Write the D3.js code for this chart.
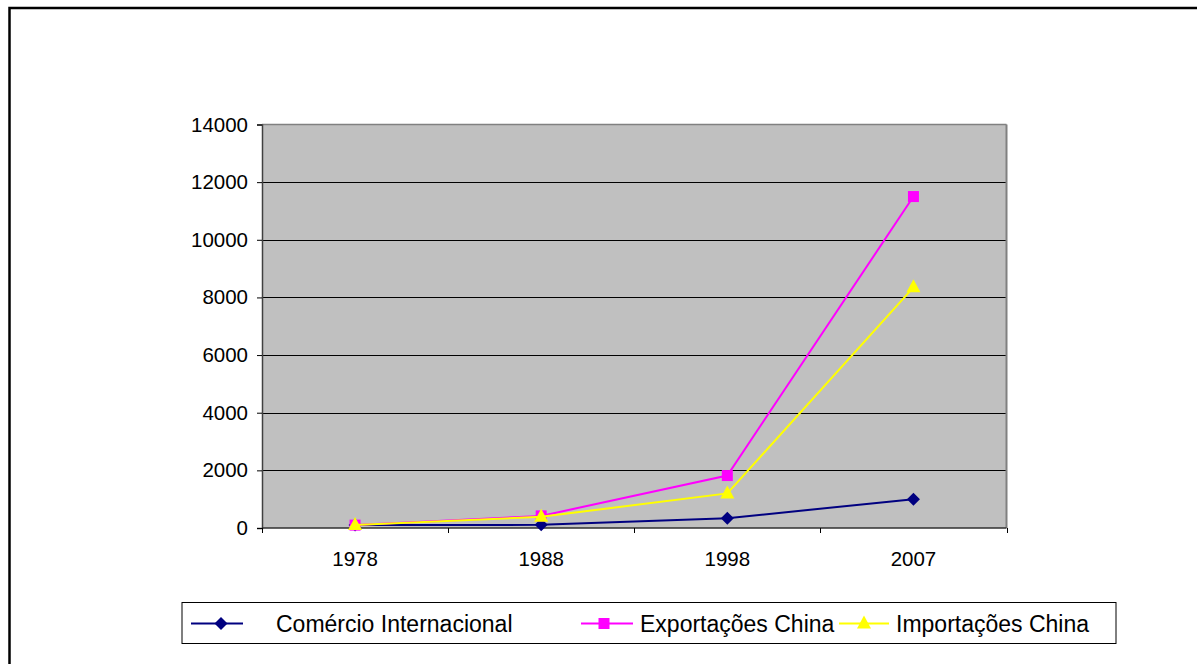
<!DOCTYPE html>
<html>
<head>
<meta charset="utf-8">
<script src="https://cdn.jsdelivr.net/npm/d3@7"></script>
<style>
  html, body { margin: 0; padding: 0; background: #fff; }
  svg { display: block; font-family: "Liberation Sans", Arial, sans-serif; }
</style>
</head>
<body>
<svg id="chart" width="1197" height="664"></svg>
<script>
// Anos e séries (índice, 1978 = 100)
const years = ["1978", "1988", "1998", "2007"];
const comercioInternacional = [100, 110, 340, 1000];
const exportacoesChina = [100, 420, 1820, 11500];
const importacoesChina = [100, 390, 1200, 8350];
const yTicks = [0, 2000, 4000, 6000, 8000, 10000, 12000, 14000];

const series = [
  { name: "Comércio Internacional", values: comercioInternacional, color: "#000080", marker: "diamond" },
  { name: "Exportações China", values: exportacoesChina, color: "#FF00FF", marker: "square" },
  { name: "Importações China", values: importacoesChina, color: "#FFFF00", marker: "triangle" }
];

const svg = d3.select("#chart");
const plot = { left: 262, top: 124.5, right: 1006.5, bottom: 528 };

// Moldura externa
svg.append("rect")
  .attr("x", 9.5).attr("y", 8)
  .attr("width", 1300).attr("height", 800)
  .attr("fill", "none").attr("stroke", "#000").attr("stroke-width", 2.5);

const x = d3.scaleBand().domain(years).range([plot.left, plot.right]);
const y = d3.scaleLinear().domain([0, 14000]).range([plot.bottom, plot.top]);

// Área de plotagem
svg.append("rect")
  .attr("x", plot.left).attr("y", plot.top)
  .attr("width", plot.right - plot.left).attr("height", plot.bottom - plot.top)
  .attr("fill", "#C0C0C0");

// Linhas de grade
svg.append("g").selectAll("line")
  .data(yTicks.filter(d => d > 0 && d < 14000))
  .join("line")
  .attr("x1", plot.left).attr("x2", plot.right)
  .attr("y1", d => Math.round(y(d)) + 0.5).attr("y2", d => Math.round(y(d)) + 0.5)
  .attr("stroke", "#000").attr("stroke-width", 1);

// Borda superior e direita
svg.append("line")
  .attr("x1", plot.left).attr("x2", plot.right)
  .attr("y1", plot.top).attr("y2", plot.top)
  .attr("stroke", "#808080").attr("stroke-width", 1.5);
svg.append("line")
  .attr("x1", plot.right).attr("x2", plot.right)
  .attr("y1", plot.top).attr("y2", plot.bottom)
  .attr("stroke", "#808080").attr("stroke-width", 2);

// Eixo Y
const yAxis = d3.axisLeft(y).tickValues(yTicks).tickSize(5).tickPadding(9).tickFormat(d3.format("d"));
const gy = svg.append("g").attr("transform", `translate(${plot.left},0)`).call(yAxis);
gy.select(".domain").attr("stroke", "#404040").attr("stroke-width", 1.5);
gy.selectAll(".tick line").attr("stroke", "#000");
gy.selectAll(".tick text").attr("font-size", "20.5px").attr("fill", "#000")
  .attr("font-family", "Liberation Sans, Arial, sans-serif");

// Eixo X com marcas entre as categorias
svg.append("line")
  .attr("x1", plot.left).attr("x2", plot.right)
  .attr("y1", plot.bottom).attr("y2", plot.bottom)
  .attr("stroke", "#303030").attr("stroke-width", 1.5);
const boundaries = years.map(d => x(d)).concat([x(years[years.length - 1]) + x.bandwidth()]);
svg.append("g").selectAll("line")
  .data(boundaries)
  .join("line")
  .attr("x1", d => Math.round(d) + 0.5).attr("x2", d => Math.round(d) + 0.5)
  .attr("y1", plot.bottom).attr("y2", plot.bottom + 5)
  .attr("stroke", "#000");
svg.append("g").selectAll("text")
  .data(years)
  .join("text")
  .attr("x", d => x(d) + x.bandwidth() / 2)
  .attr("y", 558)
  .attr("text-anchor", "middle")
  .attr("dominant-baseline", "central")
  .attr("font-size", "20.5px")
  .text(d => d);

// Marcadores
function drawMarker(g, type, color, cx, cy) {
  if (type === "diamond") {
    g.append("path").attr("d", `M${cx},${cy - 6.5}L${cx + 6.5},${cy}L${cx},${cy + 6.5}L${cx - 6.5},${cy}Z`)
      .attr("fill", color);
  } else if (type === "square") {
    g.append("rect").attr("x", cx - 5.5).attr("y", cy - 5.5).attr("width", 11).attr("height", 11)
      .attr("fill", color);
  } else {
    g.append("path").attr("d", `M${cx},${cy - 8}L${cx + 7},${cy + 5}L${cx - 7},${cy + 5}Z`)
      .attr("fill", color);
  }
}

const line = d3.line()
  .x((d, i) => x(years[i]) + x.bandwidth() / 2)
  .y(d => y(d));

series.forEach(s => {
  const g = svg.append("g");
  g.append("path").datum(s.values)
    .attr("d", line)
    .attr("fill", "none").attr("stroke", s.color).attr("stroke-width", 2);
  s.values.forEach((v, i) => drawMarker(g, s.marker, s.color, x(years[i]) + x.bandwidth() / 2, y(v)));
});

// Legenda
const legend = svg.append("g");
legend.append("rect")
  .attr("x", 182).attr("y", 602.5).attr("width", 934).attr("height", 41)
  .attr("fill", "#fff").attr("stroke", "#000").attr("stroke-width", 1);
const legendItems = [
  { lx1: 191, lx2: 243, mx: 221, tx: 276 },
  { lx1: 581, lx2: 633, mx: 604, tx: 640 },
  { lx1: 839, lx2: 889, mx: 864, tx: 896 }
];
series.forEach((s, i) => {
  const it = legendItems[i];
  const ly = 623.5;
  legend.append("line").attr("x1", it.lx1).attr("x2", it.lx2).attr("y1", ly).attr("y2", ly)
    .attr("stroke", s.color).attr("stroke-width", 2);
  drawMarker(legend, s.marker, s.color, it.mx, ly);
  legend.append("text").attr("x", it.tx).attr("y", ly)
    .attr("dominant-baseline", "central")
    .attr("font-size", "23px")
    .text(s.name);
});
</script>
</body>
</html>
